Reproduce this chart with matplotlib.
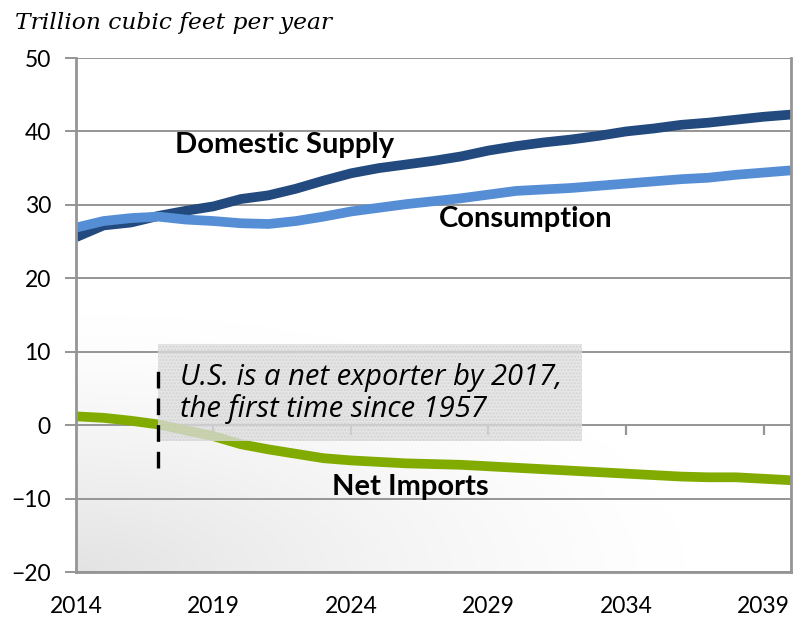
import numpy as np
import matplotlib.pyplot as plt
from matplotlib.patches import Rectangle

years = np.arange(2014, 2041)

domestic_supply = [25.6, 27.2, 27.6, 28.5, 29.2, 29.8, 30.8, 31.3, 32.2, 33.3, 34.3, 35.0, 35.5,
                   36.0, 36.6, 37.4, 38.0, 38.5, 38.9, 39.4, 40.0, 40.4, 40.9, 41.2, 41.6, 42.0, 42.3]
consumption = [26.9, 27.8, 28.2, 28.4, 28.0, 27.8, 27.5, 27.4, 27.8, 28.4, 29.1, 29.6, 30.1,
               30.5, 30.9, 31.4, 31.9, 32.1, 32.3, 32.6, 32.9, 33.2, 33.5, 33.7, 34.1, 34.4, 34.7]
net_imports = [1.2, 1.0, 0.6, 0.1, -0.7, -1.5, -2.6, -3.3, -3.9, -4.5, -4.8, -5.0, -5.2,
               -5.3, -5.4, -5.6, -5.8, -6.0, -6.2, -6.4, -6.6, -6.8, -7.0, -7.1, -7.1, -7.3, -7.5]

tick_years = [2014, 2019, 2024, 2029, 2034, 2039]
y_ticks = [-20, -10, 0, 10, 20, 30, 40, 50]
export_year = 2017

grid_color = '#959595'
navy = '#224a7e'
light_blue = '#558ed5'
green = '#82ab00'

fig = plt.figure(figsize=(7.93, 6.18), dpi=100)
ax = fig.add_axes([0.0958, 0.0744, 0.9017, 0.8317])
ax.set_xlim(2014, 2040)
ax.set_ylim(-20, 50)

# soft grey shading in the lower-left corner of the plot area
gx, gy = np.meshgrid(np.linspace(0, 1, 300), np.linspace(0, 1, 300))
d = np.sqrt((gx / 0.85) ** 2 + (gy / 0.5) ** 2)
shade = 1 - 0.11 * np.clip(1 - d, 0, 1) ** 1.3
ax.imshow(np.dstack([shade] * 3), extent=(0, 1, 0, 1), origin='lower',
          transform=ax.transAxes, aspect='auto', zorder=0)

for v in y_ticks:
    ax.axhline(v, color=grid_color, lw=1.4, zorder=1)

ax.plot(years, domestic_supply, color=navy, lw=7, zorder=2, solid_capstyle='butt')
ax.plot(years, consumption, color=light_blue, lw=7, zorder=2.1, solid_capstyle='butt')
ax.plot(years, net_imports, color=green, lw=7, zorder=2, solid_capstyle='butt')

# small tick marks along the zero line
ax.plot(tick_years[1:], [0] * (len(tick_years) - 1), ls='none', marker=3,
        ms=7, mew=1.6, color=grid_color, zorder=1)

box = Rectangle((export_year, -2.2), 15.4, 13.3, facecolor='#dedede', edgecolor='#cfcfcf',
                hatch='.....', lw=0, alpha=0.75, zorder=3)
ax.add_patch(box)
ax.axvline(export_year, ymin=(-5.8 + 20) / 70, ymax=(7.4 + 20) / 70, color='black',
           lw=2.4, dashes=(5, 3), zorder=4)

ax.text(2017.8, 4.3, 'U.S. is a net exporter by 2017,\nthe first time since 1957',
        fontsize=21, style='italic', family='Open Sans', va='center', ha='left',
        linespacing=1.12, zorder=5)

label_kw = dict(fontsize=21, fontweight='bold', family='Lato', color='black', zorder=5)
ax.text(2017.6, 38.1, 'Domestic Supply', va='center', **label_kw)
ax.text(2027.2, 28.1, 'Consumption', va='center', **label_kw)
ax.text(2023.3, -8.4, 'Net Imports', va='center', **label_kw)

ax.set_xticks(tick_years)
ax.set_xticklabels([str(y) for y in tick_years])
ax.set_yticks(y_ticks)
ax.tick_params(axis='x', length=0, pad=17, labelsize=16.5)
ax.tick_params(axis='y', length=8, width=1.4, color=grid_color, labelsize=16.5, pad=10)
for lab in ax.get_xticklabels() + ax.get_yticklabels():
    lab.set_family('Lato')

for side in ['left', 'bottom', 'right']:
    ax.spines[side].set_color(grid_color)
    ax.spines[side].set_linewidth(2)
ax.spines['top'].set_visible(False)

fig.text(0.019, 0.962, 'Trillion cubic feet per year', fontsize=16.8, style='italic',
         family='DejaVu Serif', va='center', ha='left')

fig.savefig('out.png', dpi=100)
